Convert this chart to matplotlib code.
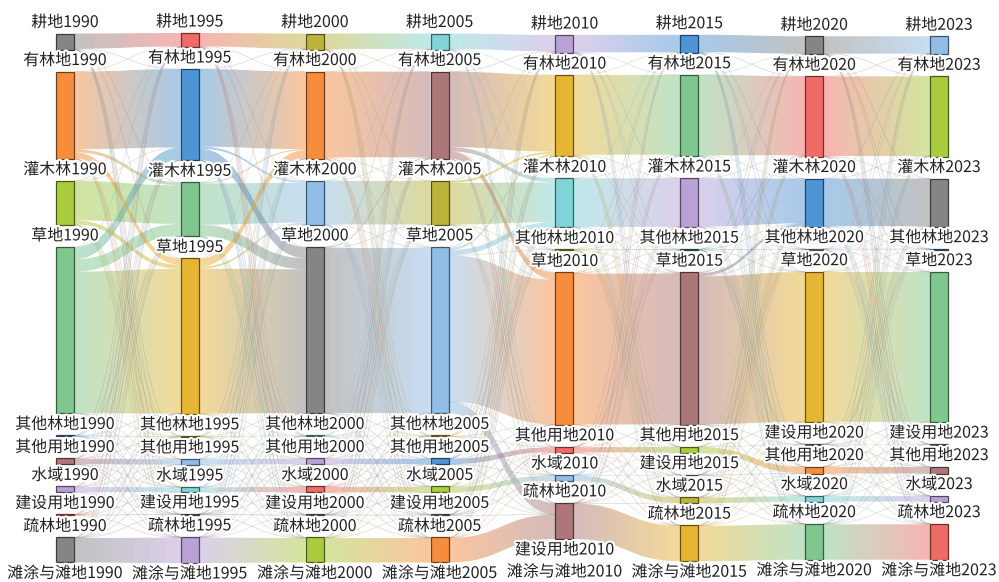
import numpy as np
import matplotlib.pyplot as plt
import matplotlib.patheffects as pe
from matplotlib.path import Path
from matplotlib.patches import PathPatch, Rectangle
from matplotlib.collections import LineCollection
from matplotlib.colors import to_rgb

plt.rcParams['font.family'] = ['Noto Sans CJK SC', 'DejaVu Sans']

YEARS = ['1990', '1995', '2000', '2005', '2010', '2015', '2020', '2023']

# порядок узлов сверху вниз в каждой колонке
ORDER_A = ['耕地', '有林地', '灌木林', '草地', '其他林地', '其他用地', '水域', '建设用地', '疏林地', '滩涂与滩地']
ORDER_2010 = ['耕地', '有林地', '灌木林', '其他林地', '草地', '其他用地', '水域', '疏林地', '建设用地', '滩涂与滩地']
ORDER_2015 = ['耕地', '有林地', '灌木林', '其他林地', '草地', '其他用地', '建设用地', '水域', '疏林地', '滩涂与滩地']
ORDER_2020 = ['耕地', '有林地', '灌木林', '其他林地', '草地', '建设用地', '其他用地', '水域', '疏林地', '滩涂与滩地']
ORDERS = [ORDER_A, ORDER_A, ORDER_A, ORDER_A, ORDER_2010, ORDER_2015, ORDER_2020, ORDER_2020]

# площади узлов (в порядке ORDERS)
AREA_1990 = [16, 87, 44, 166, 1, 6, 6, 1, 25, 0]
AREA_1995 = [14, 91, 54, 155, 1, 6, 5, 1, 26, 0]
AREA_2000 = [16, 87, 44, 166, 1, 6, 6, 1, 25, 0]
AREA_2005 = [16, 87, 44, 166, 1, 6, 6, 1, 25, 0]
AREA_2010 = [18, 81, 49, 1, 152, 6, 6, 36, 0, 0]
AREA_2015 = [18, 81, 49, 1, 152, 6, 0.5, 6, 36, 0]
AREA_2020 = [18, 80, 48, 1, 150, 0.5, 7, 6, 36, 0]
AREA_2023 = [18, 80, 48, 1, 150, 0.5, 7, 6, 36, 0]
AREAS = [AREA_1990, AREA_1995, AREA_2000, AREA_2005, AREA_2010, AREA_2015, AREA_2020, AREA_2023]

COLORS_1990 = ['#858585', '#f58d3d', '#a9cb3e', '#80c78f', '#4f95d5', '#ab7778', '#b9a1d5', '#ef6b65', '#858585', '#e6b532']
COLORS_1995 = ['#ef6b65', '#4f95d5', '#80c78f', '#e6b532', '#bcb33a', '#91bde6', '#80d3d6', '#858585', '#b9a1d5', '#f58d3d']
COLORS_2000 = ['#bcb33a', '#f58d3d', '#91bde6', '#858585', '#80d3d6', '#b9a1d5', '#ef6b65', '#858585', '#a9cb3e', '#4f95d5']
COLORS_2005 = ['#80d3d6', '#ab7778', '#bcb33a', '#91bde6', '#e6b532', '#4f95d5', '#a9cb3e', '#858585', '#f58d3d', '#80c78f']
COLORS_2010 = ['#b9a1d5', '#e6b532', '#80d3d6', '#bcb33a', '#f58d3d', '#ef6b65', '#91bde6', '#ab7778', '#858585', '#4f95d5']
COLORS_2015 = ['#4f95d5', '#80c78f', '#b9a1d5', '#3f9a8a', '#ab7778', '#a9cb3e', '#858585', '#bcb33a', '#e6b532', '#f58d3d']
COLORS_2020 = ['#858585', '#ef6b65', '#4f95d5', '#b9a1d5', '#e6b532', '#858585', '#f58d3d', '#80d3d6', '#80c78f', '#91bde6']
COLORS_2023 = ['#91bde6', '#a9cb3e', '#858585', '#4f95d5', '#80c78f', '#858585', '#ab7778', '#b9a1d5', '#ef6b65', '#e6b532']
COLORS = [COLORS_1990, COLORS_1995, COLORS_2000, COLORS_2005, COLORS_2010, COLORS_2015, COLORS_2020, COLORS_2023]

# основные переходы (источник, цель, площадь)
FLOWS_1990_1995 = [('耕地', '耕地', 13), ('有林地', '有林地', 76), ('有林地', '灌木林', 3), ('有林地', '草地', 6),
                   ('灌木林', '灌木林', 38), ('灌木林', '草地', 4), ('草地', '有林地', 12), ('草地', '灌木林', 12),
                   ('草地', '草地', 138), ('其他林地', '其他林地', 1), ('其他用地', '其他用地', 6), ('水域', '水域', 5),
                   ('建设用地', '建设用地', 1), ('疏林地', '疏林地', 24)]
FLOWS_1995_2000 = [('耕地', '耕地', 13), ('有林地', '有林地', 76), ('有林地', '灌木林', 2), ('有林地', '草地', 11),
                   ('灌木林', '有林地', 1), ('灌木林', '灌木林', 40), ('灌木林', '草地', 11), ('草地', '有林地', 8),
                   ('草地', '灌木林', 2), ('草地', '草地', 142), ('其他林地', '其他林地', 1), ('其他用地', '其他用地', 6),
                   ('水域', '水域', 5), ('建设用地', '建设用地', 1), ('疏林地', '疏林地', 25)]
FLOWS_2000_2005 = [('耕地', '耕地', 15), ('有林地', '有林地', 84), ('有林地', '草地', 1), ('灌木林', '灌木林', 43),
                   ('草地', '有林地', 1), ('草地', '草地', 163), ('其他林地', '其他林地', 1), ('其他用地', '其他用地', 6),
                   ('水域', '水域', 6), ('建设用地', '建设用地', 1), ('疏林地', '疏林地', 25)]
FLOWS_2005_2010 = [('耕地', '耕地', 15), ('有林地', '有林地', 73), ('有林地', '灌木林', 4), ('有林地', '草地', 7),
                   ('灌木林', '有林地', 2), ('灌木林', '灌木林', 40), ('草地', '耕地', 1), ('草地', '有林地', 2),
                   ('草地', '灌木林', 5), ('草地', '草地', 140), ('草地', '疏林地', 11), ('其他林地', '其他林地', 1),
                   ('其他用地', '其他用地', 5), ('水域', '水域', 5), ('建设用地', '其他用地', 1), ('疏林地', '疏林地', 24)]
FLOWS_2010_2015 = [('耕地', '耕地', 17), ('有林地', '有林地', 78), ('有林地', '草地', 1), ('灌木林', '灌木林', 47),
                   ('其他林地', '其他林地', 1), ('草地', '有林地', 1), ('草地', '草地', 149), ('其他用地', '其他用地', 6),
                   ('其他用地', '建设用地', 0.5), ('水域', '水域', 5), ('疏林地', '疏林地', 35)]
FLOWS_2015_2020 = [('耕地', '耕地', 17), ('有林地', '有林地', 78), ('灌木林', '灌木林', 45), ('其他林地', '其他林地', 1),
                   ('草地', '有林地', 1), ('草地', '灌木林', 3), ('草地', '草地', 146), ('其他用地', '其他用地', 6),
                   ('建设用地', '建设用地', 0.5), ('水域', '水域', 6), ('疏林地', '疏林地', 35)]
FLOWS_2020_2023 = [('耕地', '耕地', 17), ('有林地', '有林地', 78), ('灌木林', '灌木林', 46), ('其他林地', '其他林地', 1),
                   ('草地', '草地', 147), ('建设用地', '建设用地', 0.5), ('其他用地', '其他用地', 7), ('水域', '水域', 6),
                   ('疏林地', '疏林地', 35)]
FLOWS = [FLOWS_1990_1995, FLOWS_1995_2000, FLOWS_2000_2005, FLOWS_2005_2010,
         FLOWS_2010_2015, FLOWS_2015_2020, FLOWS_2020_2023]

# мелкие переходы между всеми классами
TRACE = 0.08
TRACE_MIN_AREA = 0.5

W, H = 999, 582
TOP, BOTTOM = 33, 585
GAP = 22
NODE_W = 18
X_FIRST, X_LAST = 56, 930
LINK_ALPHA = 0.5


def darker(color, k=0.45):
    return tuple(np.array(to_rgb(color)) * k)


def build_nodes():
    n = len(ORDERS[0])
    ky = (BOTTOM - TOP - GAP * (n - 1)) / max(sum(a) for a in AREAS)
    step = (X_LAST - X_FIRST) / (len(YEARS) - 1)
    nodes = {}
    for c, year in enumerate(YEARS):
        total = sum(AREAS[c]) * ky + GAP * (len(ORDERS[c]) - 1)
        y = TOP + (BOTTOM - TOP - total) / 2
        for cat, area, color in zip(ORDERS[c], AREAS[c], COLORS[c]):
            h = area * ky
            nodes[(c, cat)] = dict(x0=X_FIRST + c * step, y0=y, y1=y + h, area=area, color=color,
                                   label=cat + year, outs=[], ins=[])
            y += h + GAP
    return nodes


def build_links(nodes):
    links = []
    for c, flows in enumerate(FLOWS):
        listed = set()
        for s, t, v in flows:
            links.append(dict(src=(c, s), tgt=(c + 1, t), value=v, trace=False))
            listed.add((s, t))
        big_s = [k for k, a in zip(ORDERS[c], AREAS[c]) if a >= TRACE_MIN_AREA]
        big_t = [k for k, a in zip(ORDERS[c + 1], AREAS[c + 1]) if a >= TRACE_MIN_AREA]
        for s in big_s:
            for t in big_t:
                if (s, t) not in listed:
                    links.append(dict(src=(c, s), tgt=(c + 1, t), value=TRACE, trace=True))
    for link in links:
        nodes[link['src']]['outs'].append(link)
        nodes[link['tgt']]['ins'].append(link)

    # раскладываем связи внутри узлов, как в d3-sankey
    for node in nodes.values():
        h = node['y1'] - node['y0']
        for key, other, a, b in (('outs', 'tgt', 'sy0', 'sy1'), ('ins', 'src', 'ty0', 'ty1')):
            group = sorted(node[key], key=lambda l: nodes[l[other]]['y0'])
            total = sum(l['value'] for l in group)
            y = node['y0']
            for l in group:
                dy = l['value'] / total * h if total else 0
                l[a], l[b] = y, y + dy
                y += dy
    return links


def bezier(x0, y0, x1, y1, num=40):
    t = np.linspace(0, 1, num)[:, None]
    xm = (x0 + x1) / 2
    p0, p1, p2, p3 = np.array([x0, y0]), np.array([xm, y0]), np.array([xm, y1]), np.array([x1, y1])
    return (1 - t) ** 3 * p0 + 3 * (1 - t) ** 2 * t * p1 + 3 * (1 - t) * t ** 2 * p2 + t ** 3 * p3


def draw_band(ax, link, nodes):
    s, t = nodes[link['src']], nodes[link['tgt']]
    x0, x1 = s['x0'] + NODE_W, t['x0']
    xm = (x0 + x1) / 2
    a0, b0, a1, b1 = link['sy0'], link['sy1'], link['ty0'], link['ty1']
    verts = [(x0, a0), (xm, a0), (xm, a1), (x1, a1), (x1, b1), (xm, b1), (xm, b0), (x0, b0), (x0, a0)]
    codes = [Path.MOVETO, Path.CURVE4, Path.CURVE4, Path.CURVE4, Path.LINETO,
             Path.CURVE4, Path.CURVE4, Path.CURVE4, Path.CLOSEPOLY]
    patch = PathPatch(Path(verts, codes), transform=ax.transData, facecolor='none', edgecolor='none')
    c0, c1 = np.array(to_rgb(s['color'])), np.array(to_rgb(t['color']))
    k = np.linspace(0, 1, 64)[None, :, None]
    img = c0 * (1 - k) + c1 * k
    im = ax.imshow(img, extent=[x0, x1, max(a0, a1, b0, b1) + 1, min(a0, a1, b0, b1) - 1],
                   aspect='auto', alpha=LINK_ALPHA, interpolation='bilinear', zorder=1)
    im.set_clip_path(patch)


def task():
    nodes = build_nodes()
    links = build_links(nodes)

    fig = plt.figure(figsize=(W / 100, H / 100), dpi=100)
    ax = fig.add_axes([0, 0, 1, 1])

    for link in sorted([l for l in links if not l['trace']], key=lambda l: -l['value']):
        if link['sy1'] - link['sy0'] > 0 and link['ty1'] - link['ty0'] > 0:
            draw_band(ax, link, nodes)

    segs, cols = [], []
    for link in links:
        if not link['trace']:
            continue
        s, t = nodes[link['src']], nodes[link['tgt']]
        segs.append(bezier(s['x0'] + NODE_W, (link['sy0'] + link['sy1']) / 2,
                           t['x0'], (link['ty0'] + link['ty1']) / 2))
        mix = 0.5 * np.array(to_rgb(s['color'])) + 0.5 * np.array(to_rgb('#9a9a9a'))
        cols.append(tuple(mix) + (0.35,))
    ax.add_collection(LineCollection(segs, colors=cols, linewidths=0.5, zorder=2))

    for node in nodes.values():
        if node['area'] > 0:
            h = max(node['y1'] - node['y0'], 0.8)
            ax.add_patch(Rectangle((node['x0'], node['y0']), NODE_W, h, facecolor=node['color'],
                                   edgecolor=darker(node['color']), linewidth=0.9, zorder=3))
        ax.text(node['x0'] + NODE_W / 2, node['y0'] - 11, node['label'], ha='center', va='center',
                fontsize=11.5, color='#222222', zorder=5,
                path_effects=[pe.withStroke(linewidth=3, foreground='white')])

    ax.set_xlim(0, W)
    ax.set_ylim(H, 0)
    ax.axis('off')
    fig.savefig('out.png', dpi=100, facecolor='white')


task()
